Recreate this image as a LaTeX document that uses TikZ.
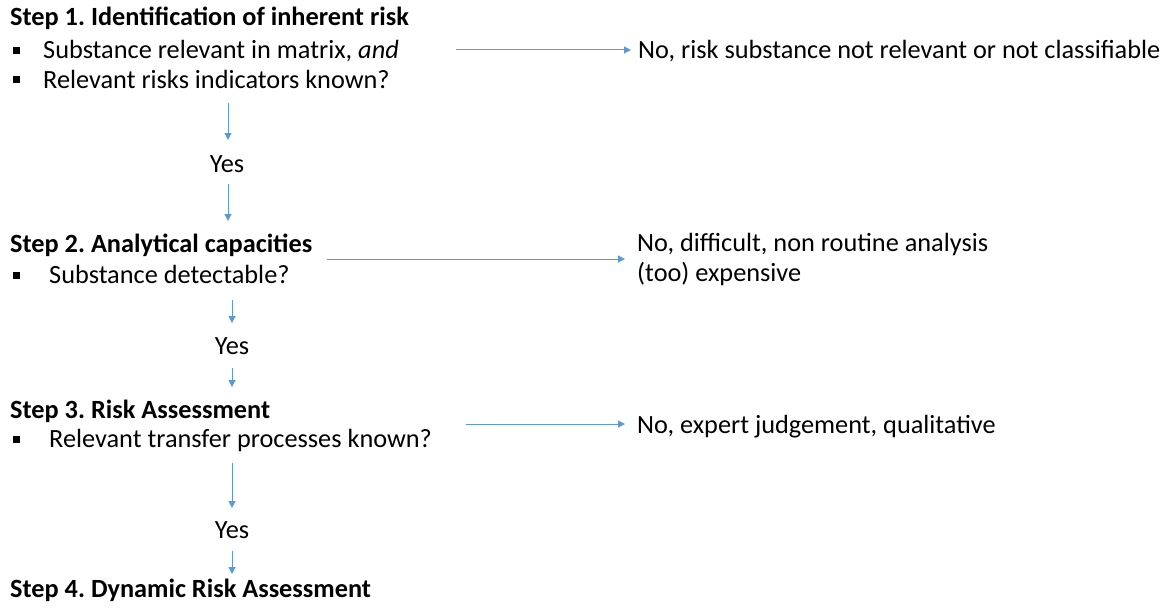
\documentclass[tikz,border=0pt]{standalone}
\usepackage{fontspec}
\setmainfont{Carlito}
\usetikzlibrary{arrows.meta}
\definecolor{arrowblue}{RGB}{91,155,213}
\frenchspacing
\begin{document}
\begin{tikzpicture}[x=1pt,y=-1pt,
  txt/.style={anchor=base west,inner sep=0pt,font=\fontsize{26.3}{31}\selectfont},
  ttl/.style={anchor=base west,inner sep=0pt,font=\fontsize{26.3}{31}\selectfont\bfseries},
  yes/.style={anchor=base,inner sep=0pt,font=\fontsize{26.3}{31}\selectfont},
  bul/.style={fill=black,minimum size=7pt,inner sep=0pt,outer sep=0pt},
  arr/.style={draw=arrowblue,line width=1pt,-{Triangle[length=7pt,width=7pt]}}]
\useasboundingbox (0,0) rectangle (1166,610);

% Step 1
\node[ttl] (s1) at (10,26) {Step 1. Identification of inherent risk};
\node[bul] (b11) at (16.5,50.5) {};
\node[txt] (t11) at (43,59) {Substance relevant in matrix, \textit{and}};
\node[bul] (b12) at (16.5,79.5) {};
\node[txt] (t12) at (43,88) {Relevant risks indicators known?};
\node[txt] (n1) at (638,59) {No, risk substance not relevant or not classifiable};
\coordinate (a1s) at (456,50);
\coordinate (a1e) at (631,50);
\draw[arr] (a1s) -- (a1e);

\coordinate (v1s) at (228,103);
\coordinate (v1e) at (228,140);
\draw[arr] (v1s) -- (v1e);
\node[yes] (y1) at (227,172) {Yes};
\coordinate (v2s) at (228,184);
\coordinate (v2e) at (228,221);
\draw[arr] (v2s) -- (v2e);

% Step 2
\node[ttl] (s2) at (10,252) {Step 2. Analytical capacities};
\node[bul] (b21) at (16.5,275.5) {};
\node[txt] (t21) at (49,283) {Substance detectable?};
\node[txt] (n2a) at (637,251) {No, difficult, non routine analysis};
\node[txt] (n2b) at (637,281) {(too) expensive};
\coordinate (a2s) at (327,259);
\coordinate (a2e) at (625,259);
\draw[arr] (a2s) -- (a2e);

\coordinate (v3s) at (232,300);
\coordinate (v3e) at (232,323);
\draw[arr] (v3s) -- (v3e);
\node[yes] (y2) at (232,354) {Yes};
\coordinate (v4s) at (232,368);
\coordinate (v4e) at (232,387);
\draw[arr] (v4s) -- (v4e);

% Step 3
\node[ttl] (s3) at (10,418) {Step 3. Risk Assessment};
\node[bul] (b31) at (16.5,439.5) {};
\node[txt] (t31) at (49,447) {Relevant transfer processes known?};
\node[txt] (n3) at (637,433) {No, expert judgement, qualitative};
\coordinate (a3s) at (466,424);
\coordinate (a3e) at (625,424);
\draw[arr] (a3s) -- (a3e);

\coordinate (v5s) at (232,463);
\coordinate (v5e) at (232,508);
\draw[arr] (v5s) -- (v5e);
\node[yes] (y3) at (232,538) {Yes};
\coordinate (v6s) at (232,551);
\coordinate (v6e) at (232,574);
\draw[arr] (v6s) -- (v6e);

% Step 4
\node[ttl] (s4) at (10,597) {Step 4. Dynamic Risk Assessment};
\end{tikzpicture}
\end{document}
